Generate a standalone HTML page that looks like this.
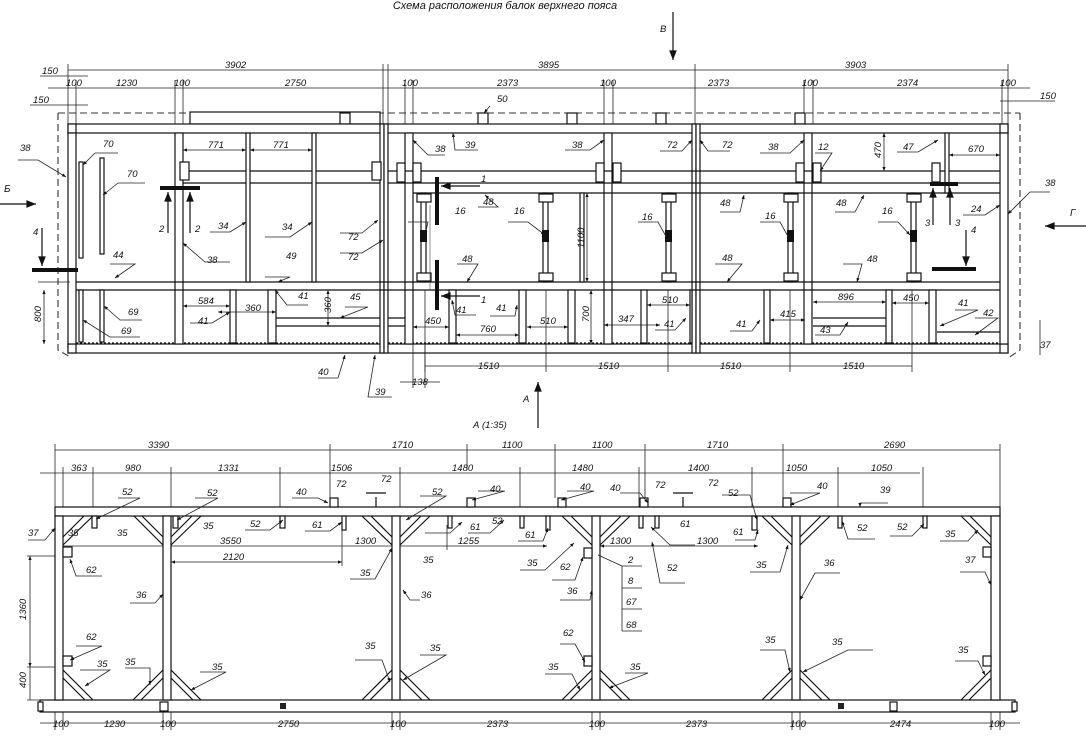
<!DOCTYPE html>
<html><head><meta charset="utf-8"><style>
html,body{margin:0;padding:0;background:#fff}
svg{display:block}
text{font-family:"Liberation Sans",sans-serif;font-style:italic;font-size:9.5px;fill:#111}
.l{stroke:#111;stroke-width:1.2;fill:none}
.d{stroke:#222;stroke-width:.8;fill:none}
.dash{stroke:#333;stroke-width:1.1;fill:none;stroke-dasharray:7 4}
.f{fill:#fff;stroke:#111;stroke-width:1.2}
.k{stroke:#111;stroke-width:4}
</style></head><body>
<svg width="1086" height="742" viewBox="0 0 1086 742" xmlns="http://www.w3.org/2000/svg">
<defs>
<marker id="a" viewBox="0 0 10 10" refX="10" refY="5" markerWidth="7" markerHeight="5" orient="auto-start-reverse"><path d="M0,1 L10,5 L0,9z" fill="#111"/></marker>
<marker id="b" viewBox="0 0 10 10" refX="10" refY="5" markerWidth="10" markerHeight="8" orient="auto"><path d="M0,1 L10,5 L0,9z" fill="#111"/></marker>
<marker id="c" viewBox="0 0 10 10" refX="10" refY="5" markerWidth="8" markerHeight="5" orient="auto"><path d="M0,1 L10,5 L0,9z" fill="#111"/></marker>
</defs>
<text x="505" y="9" text-anchor="middle" style="font-size:11px">Схема расположения балок верхнего пояса</text>

<!-- ============ TOP VIEW ============ -->
<text x="660" y="32">В</text>
<line x1="673" y1="12" x2="673" y2="60" class="l" stroke-width="1.5" marker-end="url(#b)"/>
<text x="4" y="192" style="font-size:10px">Б</text>
<line x1="0" y1="204" x2="36" y2="204" class="l" stroke-width="1.5" marker-end="url(#b)"/>
<text x="1070" y="216" style="font-size:10px">Г</text>
<line x1="1086" y1="226" x2="1045" y2="226" class="l" stroke-width="1.5" marker-end="url(#b)"/>
<text x="523" y="402">А</text>
<line x1="538" y1="428" x2="538" y2="382" class="l" stroke-width="1.5" marker-end="url(#b)"/>
<text x="473" y="428">А (1:35)</text>

<!-- dims top -->
<g class="d">
<line x1="68" y1="70" x2="1008" y2="70"/>
<line x1="68" y1="64" x2="68" y2="130"/><line x1="76" y1="80" x2="76" y2="130"/>
<line x1="383" y1="64" x2="383" y2="130"/><line x1="388" y1="64" x2="388" y2="130"/>
<line x1="695" y1="64" x2="695" y2="130"/><line x1="1008" y1="64" x2="1008" y2="130"/><line x1="1002" y1="80" x2="1002" y2="130"/>
<line x1="48" y1="88" x2="1030" y2="88"/>
<line x1="175" y1="80" x2="175" y2="125"/><line x1="183" y1="80" x2="183" y2="125"/>
<line x1="405" y1="80" x2="405" y2="125"/><line x1="413" y1="80" x2="413" y2="125"/>
<line x1="604" y1="80" x2="604" y2="125"/><line x1="613" y1="80" x2="613" y2="125"/>
<line x1="804" y1="80" x2="804" y2="125"/><line x1="813" y1="80" x2="813" y2="125"/>
<line x1="40" y1="76" x2="88" y2="76"/><line x1="30" y1="105" x2="88" y2="105"/>
<line x1="1000" y1="101" x2="1055" y2="101"/>
</g>
<text x="225" y="68">3902</text><text x="538" y="68">3895</text><text x="845" y="68">3903</text>
<text x="42" y="74">150</text><text x="66" y="86">100</text><text x="116" y="86">1230</text><text x="174" y="86">100</text><text x="285" y="86">2750</text>
<text x="402" y="86">100</text><text x="497" y="86">2373</text><text x="600" y="86">100</text><text x="708" y="86">2373</text>
<text x="802" y="86">100</text><text x="897" y="86">2374</text><text x="1000" y="86">100</text>
<text x="33" y="103">150</text><text x="1040" y="99">150</text>

<!-- dashed outline -->
<path d="M58,113 L1020,113 M58,113 L58,350 L72,358 M1020,113 L1020,350 L1008,358" class="dash"/>
<rect x="190" y="112" width="190" height="12" class="f"/>
<rect x="340" y="113" width="10" height="11" class="f"/>
<rect x="478" y="113" width="10" height="11" class="f"/><rect x="567" y="113" width="10" height="11" class="f"/>
<rect x="656" y="113" width="10" height="11" class="f"/><rect x="795" y="113" width="10" height="11" class="f"/>
<text x="497" y="102">50</text><line x1="490" y1="106" x2="484" y2="113" class="d" marker-end="url(#c)"/>
<rect x="68" y="124" width="940" height="9" class="f"/>
<rect x="68" y="344" width="940" height="9" class="f"/>
<line x1="76" y1="343" x2="1002" y2="343" class="l" stroke-dasharray="2 2"/>
<rect x="68" y="124" width="8" height="9" class="f"/><rect x="68" y="344" width="8" height="9" class="f"/>
<rect x="1000" y="124" width="8" height="9" class="f"/><rect x="1000" y="344" width="8" height="9" class="f"/>
<g class="f">
<rect x="68" y="133" width="8" height="211"/>
<rect x="175" y="133" width="8" height="211"/>
<rect x="380" y="124" width="4" height="229"/><rect x="384" y="124" width="4" height="229"/>
<rect x="405" y="133" width="8" height="211"/>
<rect x="604" y="133" width="8" height="211"/>
<rect x="692" y="124" width="4" height="229"/><rect x="696" y="124" width="4" height="229"/>
<rect x="804" y="133" width="8" height="211"/>
<rect x="1000" y="133" width="8" height="211"/>
</g>
<g class="l">
<line x1="183" y1="171" x2="380" y2="171"/><line x1="183" y1="183" x2="380" y2="183"/>
<line x1="388" y1="171" x2="1000" y2="171"/><line x1="388" y1="183" x2="1000" y2="183"/>
<line x1="413" y1="193" x2="1000" y2="193"/>
<line x1="76" y1="282" x2="1000" y2="282"/><line x1="76" y1="290" x2="1000" y2="290"/>
<line x1="276" y1="318" x2="380" y2="318"/><line x1="276" y1="326" x2="380" y2="326"/>
<line x1="388" y1="318" x2="405" y2="318"/><line x1="388" y1="326" x2="405" y2="326"/>
<line x1="813" y1="318" x2="886" y2="318"/><line x1="813" y1="326" x2="886" y2="326"/>
<line x1="937" y1="332" x2="1000" y2="332"/>
</g>
<g class="f">
<rect x="246" y="133" width="4" height="149"/><rect x="312" y="133" width="4" height="149"/>
<rect x="79" y="162" width="4" height="96"/><rect x="100" y="158" width="4" height="96"/>
<rect x="79" y="290" width="4" height="52"/><rect x="100" y="290" width="4" height="52"/>
<rect x="421" y="193" width="5" height="89"/><rect x="543" y="193" width="5" height="89"/>
<rect x="666" y="193" width="5" height="89"/><rect x="788" y="193" width="5" height="89"/><rect x="911" y="193" width="5" height="89"/>
<rect x="580" y="193" width="4" height="89"/>
<rect x="945" y="133" width="4" height="60"/>
<rect x="230" y="290" width="6" height="53"/><rect x="268" y="290" width="8" height="53"/>
<rect x="449" y="290" width="7" height="53"/><rect x="519" y="290" width="7" height="53"/><rect x="568" y="290" width="7" height="53"/>
<rect x="641" y="290" width="6" height="53"/><rect x="690" y="290" width="2" height="53"/>
<rect x="764" y="290" width="6" height="53"/><rect x="886" y="290" width="6" height="53"/><rect x="929" y="290" width="7" height="53"/>
</g>
<g class="f">
<rect x="180" y="162" width="9" height="18"/><rect x="372" y="162" width="9" height="18"/>
<rect x="397" y="163" width="8" height="19"/><rect x="413" y="163" width="8" height="19"/>
<rect x="596" y="163" width="8" height="19"/><rect x="613" y="163" width="8" height="19"/>
<rect x="796" y="163" width="8" height="19"/><rect x="813" y="163" width="8" height="19"/>
<rect x="932" y="163" width="8" height="19"/>
<rect x="417" y="194" width="14" height="8"/><rect x="539" y="194" width="14" height="8"/><rect x="662" y="194" width="14" height="8"/><rect x="784" y="194" width="14" height="8"/><rect x="907" y="194" width="14" height="8"/>
<rect x="417" y="273" width="14" height="8"/><rect x="539" y="273" width="14" height="8"/><rect x="662" y="273" width="14" height="8"/><rect x="784" y="273" width="14" height="8"/><rect x="907" y="273" width="14" height="8"/>
</g>
<g fill="#111">
<rect x="420" y="230" width="7" height="12"/><rect x="542" y="230" width="7" height="12"/><rect x="665" y="230" width="7" height="12"/><rect x="787" y="230" width="7" height="12"/><rect x="910" y="230" width="7" height="12"/>
</g>
<g class="k">
<line x1="32" y1="270" x2="78" y2="270"/>
<line x1="160" y1="188" x2="200" y2="188"/>
<line x1="437" y1="177" x2="437" y2="225"/><line x1="437" y1="260" x2="437" y2="310"/>
<line x1="930" y1="184" x2="958" y2="184"/>
<line x1="932" y1="269" x2="976" y2="269"/>
</g>
<g class="l" stroke-width="1.3">
<line x1="42" y1="228" x2="42" y2="266" marker-end="url(#b)"/>
<line x1="168" y1="233" x2="168" y2="192" marker-end="url(#b)"/>
<line x1="190" y1="233" x2="190" y2="192" marker-end="url(#b)"/>
<line x1="480" y1="186" x2="441" y2="186" marker-end="url(#b)"/>
<line x1="480" y1="296" x2="441" y2="296" marker-end="url(#b)"/>
<line x1="933" y1="225" x2="933" y2="188" marker-end="url(#b)"/>
<line x1="950" y1="225" x2="950" y2="188" marker-end="url(#b)"/>
<line x1="966" y1="230" x2="966" y2="266" marker-end="url(#b)"/>
</g>
<text x="33" y="235">4</text><text x="159" y="232">2</text><text x="195" y="232">2</text>
<text x="481" y="182">1</text><text x="481" y="303">1</text>
<text x="925" y="226">3</text><text x="955" y="226">3</text><text x="971" y="233">4</text>

<g class="d">
<line x1="183" y1="150" x2="246" y2="150" marker-start="url(#a)" marker-end="url(#a)"/>
<line x1="250" y1="150" x2="312" y2="150" marker-start="url(#a)" marker-end="url(#a)"/>
<line x1="183" y1="306" x2="230" y2="306" marker-start="url(#a)" marker-end="url(#a)"/>
<line x1="218" y1="312" x2="276" y2="312" marker-start="url(#a)" marker-end="url(#a)"/>
<line x1="328" y1="290" x2="328" y2="326" marker-start="url(#a)" marker-end="url(#a)"/>
<line x1="430" y1="205" x2="430" y2="290" stroke-width=".5"/>
<line x1="587" y1="193" x2="587" y2="282" marker-start="url(#a)" marker-end="url(#a)"/>
<line x1="591" y1="290" x2="591" y2="344" marker-start="url(#a)" marker-end="url(#a)"/>
<line x1="413" y1="327" x2="449" y2="327" marker-start="url(#a)" marker-end="url(#a)"/>
<line x1="456" y1="335" x2="519" y2="335" marker-start="url(#a)" marker-end="url(#a)"/>
<line x1="527" y1="327" x2="568" y2="327" marker-start="url(#a)" marker-end="url(#a)"/>
<line x1="604" y1="325" x2="660" y2="325" marker-start="url(#a)" marker-end="url(#a)"/>
<line x1="647" y1="305" x2="690" y2="305" marker-start="url(#a)" marker-end="url(#a)"/>
<line x1="770" y1="320" x2="805" y2="320" marker-start="url(#a)" marker-end="url(#a)"/>
<line x1="813" y1="302" x2="886" y2="302" marker-start="url(#a)" marker-end="url(#a)"/>
<line x1="892" y1="303" x2="929" y2="303" marker-start="url(#a)" marker-end="url(#a)"/>
<line x1="884" y1="133" x2="884" y2="171" marker-start="url(#a)" marker-end="url(#a)"/>
<line x1="949" y1="155" x2="1000" y2="155" marker-start="url(#a)" marker-end="url(#a)"/>
<line x1="425" y1="366" x2="912" y2="366"/>
<line x1="425" y1="290" x2="425" y2="372"/><line x1="546" y1="290" x2="546" y2="372"/><line x1="668" y1="290" x2="668" y2="372"/><line x1="790" y1="290" x2="790" y2="372"/><line x1="912" y1="290" x2="912" y2="372"/>
<line x1="44" y1="290" x2="44" y2="344" marker-start="url(#a)" marker-end="url(#a)"/>
<line x1="38" y1="282" x2="70" y2="282"/>
<line x1="400" y1="382" x2="440" y2="382"/><line x1="413" y1="344" x2="413" y2="388"/><line x1="425" y1="344" x2="425" y2="388"/>
<line x1="1040" y1="320" x2="1040" y2="355"/>
</g>
<text x="208" y="148">771</text><text x="273" y="148">771</text><text x="198" y="304">584</text><text x="245" y="311">360</text>
<text x="331" y="313" transform="rotate(-90 331 313)">360</text>
<text x="584" y="248" transform="rotate(-90 584 248)">1100</text>
<text x="589" y="322" transform="rotate(-90 589 322)">700</text>
<text x="881" y="158" transform="rotate(-90 881 158)">470</text>
<text x="41" y="322" transform="rotate(-90 41 322)">800</text>
<text x="425" y="324">450</text><text x="480" y="332">760</text><text x="540" y="324">510</text><text x="618" y="322">347</text>
<text x="662" y="303">510</text><text x="780" y="317">415</text><text x="838" y="300">896</text><text x="903" y="301">450</text><text x="968" y="152">670</text>
<text x="478" y="369">1510</text><text x="598" y="369">1510</text><text x="720" y="369">1510</text><text x="843" y="369">1510</text>
<text x="412" y="385">138</text><text x="1040" y="348">37</text>

<g class="d" marker-end="url(#c)">
<path d="M18,160 L38,160 L66,177"/><path d="M95,153 L118,153 M95,153 L83,165"/><path d="M118,183 L145,183 M118,183 L103,195"/>
<path d="M210,232 L230,232 L246,222"/><path d="M265,237 L290,237 L312,222"/><path d="M230,262 L205,262 L183,243"/>
<path d="M340,233 L362,233 L378,220"/><path d="M340,253 L362,253 L383,240"/>
<path d="M110,264 L135,264 L115,278"/><path d="M265,277 L290,277 L278,282"/>
<path d="M142,320 L120,320 L104,306"/><path d="M140,337 L110,337 L83,320"/>
<path d="M190,323 L212,323 L230,312"/><path d="M308,305 L287,305 L275,290"/>
<path d="M345,307 L368,307 L340,318"/>
<path d="M318,378 L338,378 L345,355"/><path d="M392,397 L368,397 L375,355"/>
<path d="M445,155 L428,155 L413,140"/><path d="M478,150 L455,150 L453,133"/>
<path d="M565,150 L590,150 L604,140"/><path d="M660,151 L682,151 L692,140"/><path d="M730,151 L708,151 L700,140"/>
<path d="M760,153 L790,153 L804,140"/><path d="M815,153 L832,153 L820,171"/><path d="M897,152 L918,152 L938,140"/>
<path d="M1050,192 L1030,192 L1008,214"/><path d="M963,215 L985,215 L1000,205"/>
<path d="M478,207 L498,207 L485,195"/><path d="M457,264 L478,264 L467,282"/>
<path d="M408,222 L428,222 L425,235"/><path d="M508,222 L528,222 L545,235"/>
<path d="M638,222 L658,222 L668,240"/><path d="M760,222 L780,222 L790,240"/><path d="M878,222 L898,222 L910,235"/>
<path d="M720,212 L740,212 L744,195"/><path d="M835,212 L855,212 L864,195"/>
<path d="M715,264 L742,264 L727,282"/><path d="M843,264 L862,264 L857,282"/>
<path d="M476,315 L455,315 L452,300"/><path d="M490,316 L515,316 L517,305"/>
<path d="M655,330 L675,330 L686,318"/><path d="M730,331 L752,331 L760,320"/><path d="M815,335 L840,335 L848,322"/>
<path d="M955,310 L978,310 L940,326"/><path d="M975,318 L998,318 L975,335"/>
</g>
<text x="20" y="151">38</text><text x="103" y="147">70</text><text x="127" y="177">70</text><text x="218" y="229">34</text><text x="282" y="230">34</text>
<text x="207" y="263">38</text><text x="348" y="240">72</text><text x="348" y="260">72</text><text x="113" y="258">44</text><text x="286" y="259">49</text>
<text x="128" y="315">69</text><text x="121" y="334">69</text><text x="198" y="324">41</text><text x="298" y="299">41</text><text x="350" y="300">45</text>
<text x="318" y="375">40</text><text x="375" y="395">39</text>
<text x="435" y="152">38</text><text x="465" y="148">39</text><text x="572" y="148">38</text><text x="667" y="148">72</text><text x="722" y="148">72</text>
<text x="768" y="150">38</text><text x="818" y="150">12</text><text x="903" y="150">47</text><text x="1045" y="186">38</text><text x="971" y="212">24</text>
<text x="483" y="205">48</text><text x="462" y="262">48</text><text x="455" y="214">16</text><text x="514" y="214">16</text>
<text x="642" y="220">16</text><text x="765" y="219">16</text><text x="882" y="214">16</text>
<text x="720" y="206">48</text><text x="836" y="206">48</text><text x="722" y="261">48</text><text x="867" y="262">48</text>
<text x="456" y="313">41</text><text x="496" y="311">41</text><text x="664" y="327">41</text><text x="736" y="327">41</text><text x="820" y="333">43</text>
<text x="958" y="306">41</text><text x="983" y="316">42</text>

<!-- ============ BOTTOM VIEW ============ -->
<g class="d">
<line x1="55" y1="450" x2="1000" y2="450"/>
<line x1="55" y1="444" x2="55" y2="508"/><line x1="330" y1="444" x2="330" y2="498"/>
<line x1="555" y1="444" x2="555" y2="498"/><line x1="645" y1="444" x2="645" y2="498"/><line x1="783" y1="444" x2="783" y2="498"/><line x1="1000" y1="444" x2="1000" y2="508"/>
<line x1="467" y1="444" x2="467" y2="470"/>
<line x1="40" y1="473" x2="920" y2="473"/>
<line x1="63" y1="467" x2="63" y2="508"/><line x1="93" y1="467" x2="93" y2="520"/><line x1="171" y1="467" x2="171" y2="508"/>
<line x1="280" y1="467" x2="280" y2="525"/><line x1="400" y1="467" x2="400" y2="508"/>
<line x1="520" y1="467" x2="520" y2="525"/><line x1="639" y1="467" x2="639" y2="525"/><line x1="752" y1="467" x2="752" y2="525"/>
<line x1="838" y1="467" x2="838" y2="525"/><line x1="923" y1="467" x2="923" y2="525"/>
<line x1="55" y1="546" x2="400" y2="546"/>
<line x1="171" y1="562" x2="342" y2="562" marker-start="url(#a)" marker-end="url(#a)"/>
<line x1="342" y1="525" x2="342" y2="566"/>
<line x1="400" y1="546" x2="447" y2="546"/><line x1="447" y1="525" x2="447" y2="550"/>
<line x1="447" y1="546" x2="547" y2="546" marker-end="url(#a)"/>
<line x1="600" y1="546" x2="655" y2="546" marker-start="url(#a)"/>
<line x1="655" y1="546" x2="758" y2="546" marker-end="url(#a)"/>
<line x1="27" y1="556" x2="63" y2="556"/><line x1="27" y1="667" x2="63" y2="667"/><line x1="27" y1="700" x2="55" y2="700"/>
<line x1="30" y1="556" x2="30" y2="667" marker-start="url(#a)" marker-end="url(#a)"/>
<line x1="30" y1="667" x2="30" y2="700"/>
<line x1="40" y1="723" x2="1020" y2="723"/>
<line x1="55" y1="712" x2="55" y2="730"/><line x1="63" y1="712" x2="63" y2="730"/><line x1="163" y1="712" x2="163" y2="730"/><line x1="171" y1="712" x2="171" y2="730"/>
<line x1="392" y1="712" x2="392" y2="730"/><line x1="400" y1="712" x2="400" y2="730"/><line x1="592" y1="712" x2="592" y2="730"/><line x1="600" y1="712" x2="600" y2="730"/>
<line x1="792" y1="712" x2="792" y2="730"/><line x1="800" y1="712" x2="800" y2="730"/><line x1="991" y1="712" x2="991" y2="730"/><line x1="1000" y1="712" x2="1000" y2="730"/>
</g>
<text x="148" y="448">3390</text><text x="392" y="448">1710</text><text x="502" y="448">1100</text><text x="592" y="448">1100</text><text x="707" y="448">1710</text><text x="884" y="448">2690</text>
<text x="71" y="471">363</text><text x="125" y="471">980</text><text x="218" y="471">1331</text><text x="331" y="471">1506</text>
<text x="452" y="471">1480</text><text x="572" y="471">1480</text><text x="688" y="471">1400</text><text x="786" y="471">1050</text><text x="871" y="471">1050</text>
<text x="220" y="544">3550</text><text x="223" y="560">2120</text><text x="355" y="544">1300</text><text x="458" y="544">1255</text><text x="610" y="544">1300</text><text x="697" y="544">1300</text>
<text x="26" y="620" transform="rotate(-90 26 620)">1360</text><text x="26" y="688" transform="rotate(-90 26 688)">400</text>
<text x="53" y="727">100</text><text x="104" y="727">1230</text><text x="160" y="727">100</text><text x="278" y="727">2750</text><text x="390" y="727">100</text>
<text x="487" y="727">2373</text><text x="589" y="727">100</text><text x="686" y="727">2373</text><text x="790" y="727">100</text><text x="890" y="727">2474</text><text x="989" y="727">100</text>

<rect x="55" y="507" width="945" height="9" class="f"/>
<rect x="40" y="700" width="975" height="12" class="f"/>
<rect x="38" y="702" width="5" height="9" class="f"/><rect x="1012" y="702" width="5" height="9" class="f"/>
<g class="f">
<rect x="55" y="516" width="8" height="184"/><rect x="163" y="516" width="8" height="184"/>
<rect x="392" y="516" width="8" height="184"/><rect x="592" y="516" width="8" height="184"/>
<rect x="792" y="516" width="8" height="184"/><rect x="991" y="516" width="9" height="184"/>
<rect x="160" y="702" width="8" height="9"/><rect x="890" y="702" width="7" height="9"/>
<rect x="330" y="498" width="8" height="9"/><rect x="467" y="498" width="8" height="9"/><rect x="558" y="498" width="8" height="9"/><rect x="640" y="498" width="8" height="9"/><rect x="783" y="498" width="8" height="9"/>
<rect x="63" y="547" width="9" height="10"/><rect x="63" y="656" width="9" height="10"/>
<rect x="584" y="548" width="8" height="10"/><rect x="584" y="656" width="8" height="10"/>
<rect x="983" y="547" width="8" height="10"/><rect x="983" y="656" width="8" height="10"/>
<rect x="92" y="516" width="5" height="12"/><rect x="173" y="516" width="5" height="12"/><rect x="280" y="516" width="5" height="12"/>
<rect x="342" y="516" width="4" height="14"/><rect x="448" y="516" width="4" height="12"/><rect x="520" y="516" width="4" height="12"/>
<rect x="546" y="516" width="4" height="14"/><rect x="639" y="516" width="4" height="12"/><rect x="655" y="516" width="4" height="12"/>
<rect x="752" y="516" width="5" height="14"/><rect x="838" y="516" width="4" height="12"/><rect x="923" y="516" width="4" height="12"/>
</g>
<rect x="280" y="703" width="6" height="6" fill="#222"/><rect x="838" y="703" width="6" height="6" fill="#222"/>
<path d="M376,497 L376,507 M366,493 L386,493" class="l" stroke-width="1.5"/>
<path d="M683,497 L683,507 M673,493 L693,493" class="l" stroke-width="1.5"/>
<g class="l" stroke-width="1">
<path d="M63,537 L84,516 M63,545 L93,516"/>
<path d="M163,537 L142,516 M163,545 L134,516"/>
<path d="M171,537 L192,516 M171,545 L201,516"/>
<path d="M392,537 L371,516 M392,545 L362,516"/>
<path d="M400,537 L421,516 M400,545 L430,516"/>
<path d="M592,537 L571,516 M592,545 L562,516"/>
<path d="M600,537 L621,516 M600,545 L630,516"/>
<path d="M792,537 L771,516 M792,545 L762,516"/>
<path d="M800,537 L821,516 M800,545 L830,516"/>
<path d="M991,537 L970,516 M991,545 L961,516"/>
<path d="M63,678 L85,700 M63,670 L93,700"/>
<path d="M163,678 L141,700 M163,670 L133,700"/>
<path d="M171,678 L193,700 M171,670 L201,700"/>
<path d="M392,678 L370,700 M392,670 L362,700"/>
<path d="M400,678 L422,700 M400,670 L430,700"/>
<path d="M592,678 L570,700 M592,670 L562,700"/>
<path d="M600,678 L622,700 M600,670 L630,700"/>
<path d="M792,678 L770,700 M792,670 L762,700"/>
<path d="M800,678 L822,700 M800,670 L830,700"/>
<path d="M991,678 L969,700 M991,670 L961,700"/>
</g>
<g class="d" marker-end="url(#c)">
<path d="M28,540 L45,540 L55,528"/><path d="M118,498 L140,498 L96,519"/><path d="M195,498 L218,498 L177,520"/>
<path d="M245,530 L270,530 L283,520"/><path d="M305,531 L330,531 L342,522"/>
<path d="M292,498 L318,498 L328,503"/><path d="M102,576 L76,576 L70,559"/><path d="M76,646 L102,646 L70,660"/>
<path d="M130,603 L155,603 L163,594"/><path d="M80,670 L110,670 L85,686"/><path d="M125,668 L150,668 L150,685"/><path d="M200,672 L226,672 L191,690"/>
<path d="M350,579 L375,579 L392,548"/><path d="M355,660 L382,660 L390,682"/><path d="M420,655 L446,655 L403,680"/>
<path d="M425,533 L450,533 L462,522"/><path d="M420,600 L410,600 L403,590"/>
<path d="M468,533 L490,533 L504,520"/><path d="M518,541 L543,541 L548,528"/>
<path d="M520,570 L545,570 L574,543"/><path d="M552,580 L575,580 L583,557"/>
<path d="M560,600 L590,600 L592,590"/><path d="M560,644 L575,644 L585,662"/>
<path d="M545,674 L572,674 L580,690"/><path d="M625,673 L648,673 L609,688"/>
<path d="M420,496 L446,496 L406,520"/><path d="M478,491 L505,491 L472,500"/><path d="M567,491 L594,491 L561,500"/>
<path d="M620,493 L640,493 L648,503"/>
<path d="M685,583 L660,583 L652,542"/><path d="M695,545 L670,545 L651,527"/><path d="M735,540 L755,540 L758,530"/>
<path d="M722,495 L750,495 L757,520"/>
<path d="M750,572 L780,572 L788,545"/><path d="M840,573 L815,573 L800,600"/>
<path d="M760,650 L785,650 L790,672"/><path d="M873,650 L848,650 L803,672"/>
<path d="M790,493 L820,493 L790,505"/><path d="M888,503 L860,503 L860,507"/>
<path d="M875,539 L848,539 L842,521"/><path d="M890,536 L912,536 L924,524"/>
<path d="M940,541 L968,541 L978,530"/><path d="M960,572 L985,572 L991,585"/><path d="M955,661 L978,661 L985,675"/>
</g>
<text x="28" y="536">37</text><text x="122" y="495">52</text><text x="207" y="496">52</text><text x="68" y="536">35</text><text x="117" y="536">35</text>
<text x="203" y="529">35</text><text x="250" y="527">52</text><text x="312" y="528">61</text><text x="296" y="495">40</text>
<text x="336" y="487">72</text><text x="381" y="482">72</text>
<text x="86" y="573">62</text><text x="86" y="640">62</text><text x="136" y="598">36</text><text x="97" y="667">35</text><text x="125" y="665">35</text><text x="212" y="670">35</text>
<text x="360" y="576">35</text><text x="365" y="649">35</text><text x="430" y="651">35</text><text x="423" y="563">35</text><text x="421" y="598">36</text>
<text x="432" y="495">52</text><text x="490" y="492">40</text><text x="470" y="530">61</text><text x="492" y="524">52</text><text x="525" y="538">61</text>
<text x="527" y="566">35</text><text x="560" y="570">62</text><text x="567" y="594">36</text><text x="563" y="636">62</text><text x="548" y="670">35</text><text x="630" y="670">35</text>
<text x="580" y="490">40</text><text x="610" y="491">40</text><text x="655" y="488">72</text><text x="708" y="486">72</text><text x="728" y="496">52</text>
<text x="680" y="527">61</text><text x="733" y="535">61</text><text x="667" y="571">52</text>
<text x="628" y="563">2</text><text x="628" y="584">8</text><text x="626" y="605">67</text><text x="626" y="628">68</text>
<path d="M622,566 L642,566 M622,588 L642,588 M622,609 L642,609 M622,631 L642,631 M622,566 L622,631 M598,555 L622,566" class="d"/>
<text x="756" y="568">35</text><text x="824" y="566">36</text><text x="765" y="643">35</text><text x="832" y="645">35</text>
<text x="817" y="489">40</text><text x="880" y="493">39</text><text x="857" y="531">52</text><text x="897" y="530">52</text><text x="945" y="537">35</text>
<text x="965" y="563">37</text><text x="958" y="653">35</text>
</svg>
</body></html>
